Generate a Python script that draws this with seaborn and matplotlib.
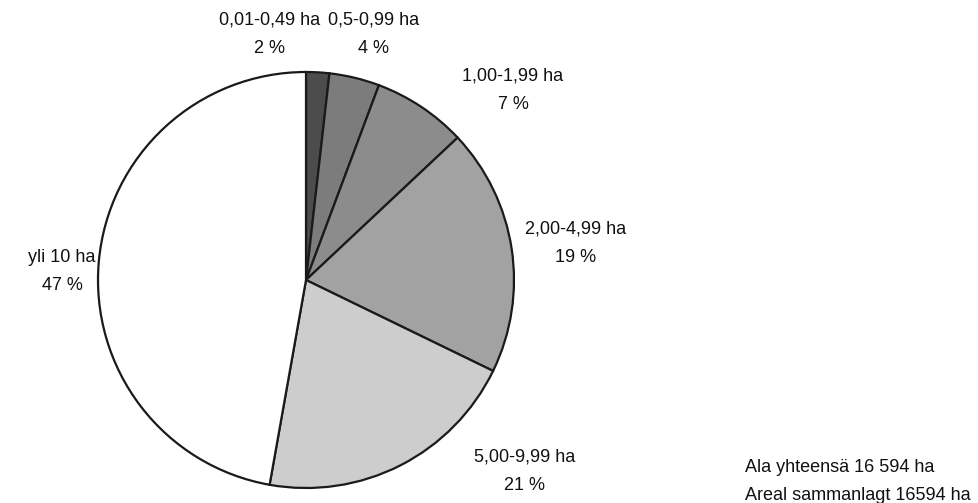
import matplotlib
matplotlib.use("Agg")
import matplotlib.pyplot as plt
import seaborn as sns

categories = ["0,01-0,49 ha", "0,5-0,99 ha", "1,00-1,99 ha", "2,00-4,99 ha", "5,00-9,99 ha", "yli 10 ha"]
shares = [1.8, 3.9, 7.3, 19.2, 20.6, 47.2]
pct_labels = ["2 %", "4 %", "7 %", "19 %", "21 %", "47 %"]
colors = ["#4c4c4c", "#7c7c7c", "#8c8c8c", "#a2a2a2", "#cdcdcd", "#ffffff"]
note_lines = ["Ala yhteensä 16 594 ha", "Areal sammanlagt 16594 ha"]

sns.set_theme(style="white")
plt.rcParams["font.family"] = ["Liberation Sans", "DejaVu Sans"]

W, H = 979, 503
fig = plt.figure(figsize=(W / 100, H / 100), dpi=100)
ax = fig.add_axes([0, 0, 1, 1])

cx, cy, r = 306, H - 280, 208
ax.pie(shares, colors=colors, startangle=90, counterclock=False,
       center=(cx, cy), radius=r, frame=True,
       wedgeprops=dict(edgecolor="#1a1a1a", linewidth=1.6))
ax.set_xlim(0, W)
ax.set_ylim(0, H)
ax.set_aspect("equal")
ax.axis("off")

# label positions: (x centre, y of first line) in pixels from top-left
label_pos = [(270, 20), (374, 20), (513, 76), (576, 229), (525, 457), (62, 258)]
gap = 28
for cat, pct, (x, y) in zip(categories, pct_labels, label_pos):
    ax.text(x, H - y, cat, ha="center", va="center", fontsize=13, color="#111111")
    ax.text(x, H - y - gap, pct, ha="center", va="center", fontsize=13, color="#111111")

for i, line in enumerate(note_lines):
    ax.text(745, H - 468 - i * 27, line, ha="left", va="center",
            fontsize=13, color="#111111")

fig.savefig("out.png", dpi=100)
